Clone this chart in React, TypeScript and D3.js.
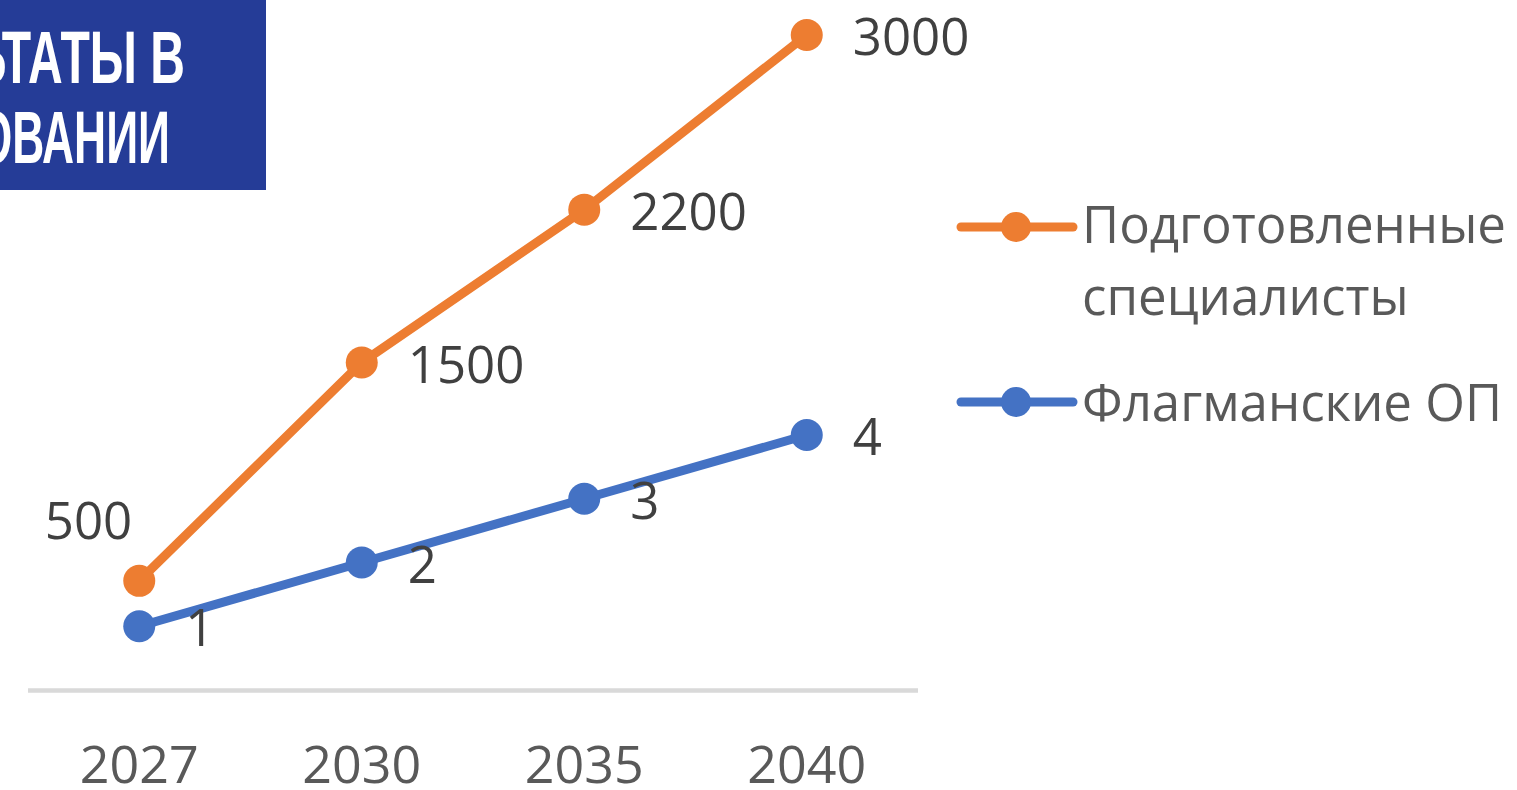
import * as d3 from "d3";

const years = ["2027", "2030", "2035", "2040"];
const specialists = [500, 1500, 2200, 3000];
const programs = [1, 2, 3, 4];
const seriesNames = ["Подготовленные специалисты", "Флагманские ОП"];
const titleLines = ["РЕЗУЛЬТАТЫ В", "ОБРАЗОВАНИИ"];

const W = 1517;
const H = 790;
const orange = "#ED7D31";
const blue = "#4472C4";
const font = "'Open Sans', sans-serif";

const App = () => {
  const x = d3.scaleBand().domain(years).range([28, 918]);
  const cx = (d: string) => (x(d) ?? 0) + x.bandwidth() / 2;
  const yLeft = d3.scaleLinear().domain([0, 3000]).range([690, 35]);
  const yRight = d3.scaleLinear().domain([0, 4]).range([690, 435]);

  const orangeLine = d3
    .line<number>()
    .x((_, i) => cx(years[i]))
    .y((d) => yLeft(d));
  const blueLine = d3
    .line<number>()
    .x((_, i) => cx(years[i]))
    .y((d) => yRight(d));

  return (
    <svg
      width={W}
      height={H}
      viewBox={`0 0 ${W} ${H}`}
      style={{ position: "absolute", left: 0, top: 0, display: "block", background: "#fff" }}
    >
      {/* title block, cut at the left edge */}
      <rect x={0} y={0} width={266} height={190} fill="#253C97" />
      <g fontFamily="'Liberation Sans Narrow', sans-serif" fontWeight="bold" fontSize={74} fill="#fff">
        <text transform="translate(185,83) scale(0.65,1)" textAnchor="end">
          {titleLines[0]}
        </text>
        <text transform="translate(170,163) scale(0.6,1)" textAnchor="end">
          {titleLines[1]}
        </text>
      </g>

      {/* axis */}
      <line x1={28} x2={918} y1={690.5} y2={690.5} stroke="#D9D9D9" strokeWidth={4.5} />
      {years.map((d) => (
        <text key={d} x={cx(d)} y={783} textAnchor="middle" fontFamily={font} fontSize={52} fill="#595959">
          {d}
        </text>
      ))}

      {/* lines */}
      <path d={orangeLine(specialists) ?? ""} fill="none" stroke={orange} strokeWidth={9} strokeLinejoin="round" />
      <path d={blueLine(programs) ?? ""} fill="none" stroke={blue} strokeWidth={9} strokeLinejoin="round" />
      {specialists.map((v, i) => (
        <circle key={"o" + i} cx={cx(years[i])} cy={yLeft(v)} r={16} fill={orange} />
      ))}
      {programs.map((v, i) => (
        <circle key={"b" + i} cx={cx(years[i])} cy={yRight(v)} r={16} fill={blue} />
      ))}

      {/* data labels */}
      <g fontFamily={font} fontSize={51} fill="#404040">
        {specialists.map((v, i) =>
          i === 0 ? (
            <text key={"lo" + i} x={cx(years[i]) - 7} y={yLeft(v) - 42} textAnchor="end">
              {v}
            </text>
          ) : (
            <text key={"lo" + i} x={cx(years[i]) + 46} y={yLeft(v) + 20}>
              {v}
            </text>
          )
        )}
        {programs.map((v, i) => (
          <text key={"lb" + i} x={cx(years[i]) + 46} y={yRight(v) + 20}>
            {v}
          </text>
        ))}
      </g>

      {/* legend */}
      <g fontFamily={font} fontSize={51} fill="#595959">
        <line x1={961} x2={1073} y1={227} y2={227} stroke={orange} strokeWidth={9} strokeLinecap="round" />
        <circle cx={1016} cy={227} r={15} fill={orange} />
        <text x={1082} y={243}>{seriesNames[0].split(" ")[0]}</text>
        <text x={1082} y={315}>{seriesNames[0].split(" ")[1]}</text>
        <line x1={961} x2={1073} y1={402} y2={402} stroke={blue} strokeWidth={9} strokeLinecap="round" />
        <circle cx={1016} cy={402} r={15} fill={blue} />
        <text x={1082} y={421}>{seriesNames[1]}</text>
      </g>
    </svg>
  );
};

export default App;
